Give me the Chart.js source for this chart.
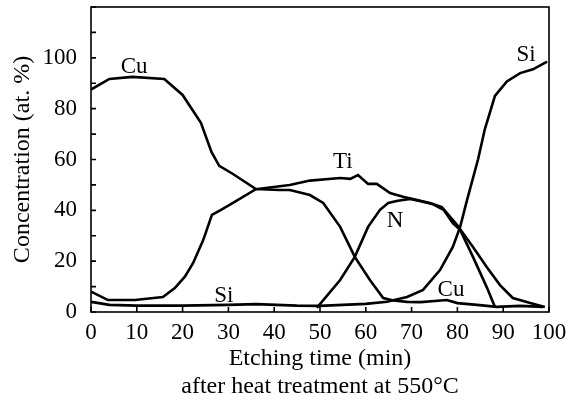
<!DOCTYPE html>
<html><head><meta charset="utf-8">
<script src="https://cdn.jsdelivr.net/npm/chart.js@4.4.1/dist/chart.umd.min.js"></script>
<style>html,body{margin:0;padding:0;background:#fff;}</style>
</head><body>
<canvas id="c" width="569" height="402"></canvas>
<script>
// ---- data ----
const cuTime = [0,4,9,16,20,24,26.3,28,31,36,41,43.4,47.8,50.7,54.4,57.6,60.9,63.8,66,69,72,77.7,80,84.3,88.6,93.7,98.7];
const cuConc = [87.5,91.7,92.5,91.7,85.4,74.4,63,57.5,54.3,48.4,48,48,46,42.9,33.5,21.7,12.6,5.5,4.5,4,3.9,4.7,3.5,2.8,2,2.4,2];

const tiTime = [0,3.7,9.6,15.7,18.3,20.5,22.3,24.5,26.4,28.2,31,36,43.4,47.8,54.4,56.6,58.3,60.5,62.4,65.3,68.1,71.2,74,76.6,79.9,83.4,86.4,89.3,92.1,95.9,99.1];
const tiConc = [8,4.7,4.7,5.9,9.4,13.9,19.3,28.3,38.2,40,42.9,48.3,50,51.7,52.7,52.4,53.9,50.4,50.4,46.8,45.3,44.1,42.9,41.3,34.3,25.6,17.7,10.6,5.5,3.5,2];

const nTime = [49.3,54.4,57.6,60.5,63.1,64.9,67,69.7,72,74.7,77,79,80.6,83.4,86.4,88.2];
const nConc = [1.6,12.6,21.7,33.5,40.2,42.9,43.8,44.5,43.6,42.4,40.2,35,32.3,21.7,9.8,2];

const siTime = [0,4,10,20,30,36,45,50,55,60,64.6,69,72.5,76.2,79,80.6,82.1,84.5,86,88.2,90.8,93.7,96.5,99.6];
const siConc = [4,2.8,2.5,2.5,2.8,3.1,2.5,2.4,2.8,3.2,4,5.9,8.7,16.5,25.6,33.5,44,60,72,85,90.7,94,95.5,98.5];

const curveLabels = ['Cu','Ti','N','Si','Si','Cu'];
const labelTime   = [9.4,55,66.4,95,29,78.6];
const labelConc   = [96.5,59,35.8,101,6.3,8.7];

const xTitle = ['Etching time (min)','after heat treatment at 550°C'];
const yTitle = 'Concentration (at. %)';
// ----------------------------------------

const pts = (xs, ys) => xs.map((v, i) => ({x: v, y: ys[i]}));
const serif = '"Liberation Serif", "Times New Roman", serif';

const lineStyle = {borderColor:'#000', borderWidth:2.6, pointRadius:0, tension:0, fill:false};

const framePlugin = {
  id: 'frame',
  afterDatasetsDraw(chart) {
    const {ctx, chartArea: a, scales: {x, y}} = chart;
    ctx.save();
    ctx.strokeStyle = '#000';
    ctx.lineWidth = 1.6;
    ctx.strokeRect(a.left, a.top, a.right - a.left, a.bottom - a.top);
    ctx.beginPath();
    y.ticks.forEach(t => { const py = y.getPixelForValue(t.value); ctx.moveTo(a.left, py); ctx.lineTo(a.left + 5, py); });
    x.ticks.forEach(t => { const px = x.getPixelForValue(t.value); ctx.moveTo(px, a.bottom); ctx.lineTo(px, a.bottom - 5); });
    ctx.stroke();
    ctx.font = '23px ' + serif;
    ctx.fillStyle = '#000';
    ctx.textAlign = 'center';
    ctx.textBaseline = 'middle';
    curveLabels.forEach((t, i) => ctx.fillText(t, x.getPixelForValue(labelTime[i]), y.getPixelForValue(labelConc[i])));
    ctx.restore();
  }
};

new Chart(document.getElementById('c'), {
  type: 'line',
  data: {
    datasets: [
      {label:'Cu', data: pts(cuTime, cuConc), ...lineStyle},
      {label:'Ti', data: pts(tiTime, tiConc), ...lineStyle},
      {label:'N',  data: pts(nTime, nConc), ...lineStyle},
      {label:'Si', data: pts(siTime, siConc), ...lineStyle}
    ]
  },
  options: {
    responsive: false,
    devicePixelRatio: 1,
    animation: false,
    layout: {padding: {left: 0, right: 20, top: 7, bottom: 0}},
    plugins: {legend: {display: false}, tooltip: {enabled: false}},
    scales: {
      x: {
        type: 'linear', min: 0, max: 100,
        grid: {display: false, drawTicks: false}, border: {display: false},
        ticks: {stepSize: 10, autoSkip: false, maxRotation: 0, color: '#000', padding: 7,
                font: {family: serif, size: 23}},
        title: {display: true, text: xTitle, color: '#000',
                font: {family: serif, size: 24, lineHeight: 1.17}, padding: {top: 0, bottom: 1}},
        afterFit: s => { s.height = 90; s.paddingLeft = 0; s.paddingRight = 0; }
      },
      y: {
        min: 0, max: 120,
        grid: {display: false, drawTicks: false}, border: {display: false},
        ticks: {stepSize: 10, autoSkip: false, color: '#000', padding: 14,
                font: {family: serif, size: 23},
                callback: v => (v % 20 === 0 && v <= 100) ? String(v) : ''},
        title: {display: true, text: yTitle, color: '#000',
                font: {family: serif, size: 24, lineHeight: 1.17}, padding: {top: 9, bottom: 0}},
        afterFit: s => { s.width = 91; s.paddingTop = 0; s.paddingBottom = 0; }
      }
    }
  },
  plugins: [framePlugin]
});
</script>
</body></html>
